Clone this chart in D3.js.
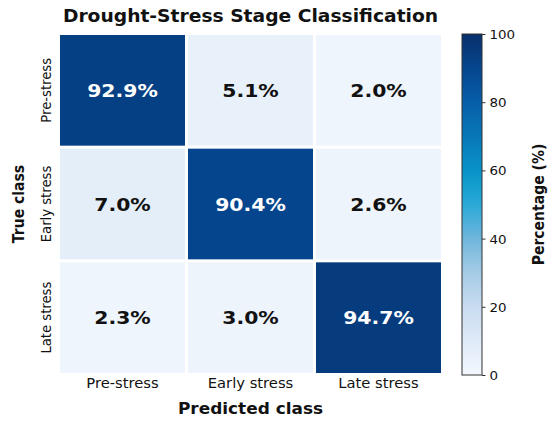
<!DOCTYPE html>
<html>
<head>
<meta charset="utf-8">
<style>
	html, body { margin: 0; padding: 0; background: white; }
	svg { display: block; font-family: "DejaVu Sans", sans-serif; }
</style>
</head>
<body>
<svg class="chart" width="550" height="423"></svg>

<script src="https://cdn.jsdelivr.net/npm/d3@7"></script>
<script>

// chart data
var classes = ['Pre-stress', 'Early stress', 'Late stress']
var rowPre = [92.9, 5.1, 2.0]
var rowEarly = [7.0, 90.4, 2.6]
var rowLate = [2.3, 3.0, 94.7]
var barTicks = [0, 20, 40, 60, 80, 100]

var rows = [rowPre, rowEarly, rowLate]

// layout + style
var cfg = {
	left: 58.5, right: 442.5, top: 33.5, bottom: 374.5,
	gap: 1.5,
	barX: 462, barW: 20, barTop: 34, barBottom: 375,
	stretch: 1.1, // the original text looks a bit wide
}

// Blues-like ramp, a bit more cyan in the middle like the reference
var ramp = d3.scaleLinear()
	.domain([0, 10, 20, 30, 40, 52, 60, 70, 80, 90, 100])
	.range(['#f3f8fd', '#deeaf7', '#c9dcf0', '#a5cbe5', '#6fb6dc', '#1ea6d6',
		'#0992c7', '#0877b8', '#075ea8', '#05468e', '#08306b'])

var svg = d3.select('.chart')

function wide(x, y, extra) {
	return 'translate(' + x + ',' + y + ') scale(' + cfg.stretch + ',1)' + (extra || '')
}

// scales
var x = d3.scaleBand().domain(classes).range([cfg.left, cfg.right])
var y = d3.scaleBand().domain(classes).range([cfg.top, cfg.bottom])

// cells
var cells = []
rows.forEach(function(r, i) {
	r.forEach(function(v, j) {
		cells.push({ t: classes[i], p: classes[j], v: v })
	})
})

var cell = svg.append('g').selectAll('g')
	.data(cells)
	.enter().append('g')

cell.append('rect')
	.attr('x', function(d) { return x(d.p) + cfg.gap })
	.attr('y', function(d) { return y(d.t) + cfg.gap })
	.attr('width', x.bandwidth() - 2 * cfg.gap)
	.attr('height', y.bandwidth() - 2 * cfg.gap)
	.attr('fill', function(d) { return ramp(d.v) })

cell.append('text')
	.attr('transform', function(d) {
		return wide(x(d.p) + x.bandwidth() / 2, y(d.t) + y.bandwidth() / 2 + 6.6)
	})
	.attr('text-anchor', 'middle')
	.attr('font-size', 18.5)
	.attr('font-weight', 'bold')
	.attr('fill', function(d) { return d.v > 50 ? 'white' : '#111' })
	.text(function(d) { return d.v.toFixed(1) + '%' })

// x axis labels
var xAxis = svg.append('g')
	.attr('transform', 'translate(0,' + cfg.bottom + ')')
	.call(d3.axisBottom(x).tickSize(0))
xAxis.select('.domain').remove()
xAxis.selectAll('text')
	.attr('y', 0).attr('dy', 0)
	.attr('transform', wide(0, 13.8))
	.attr('font-size', 13.4)
	.attr('font-family', 'DejaVu Sans')
	.attr('fill', '#111')

// y axis labels, rotated
var yAxis = svg.append('g')
	.attr('transform', 'translate(' + cfg.left + ',0)')
	.call(d3.axisLeft(y).tickSize(0))
yAxis.select('.domain').remove()
yAxis.selectAll('text')
	.attr('x', 0).attr('dy', 0)
	.attr('text-anchor', 'middle')
	.attr('transform', wide(-8, 0, ' rotate(-90)'))
	.attr('font-size', 13.2)
	.attr('font-family', 'DejaVu Sans')
	.attr('fill', '#111')

// titles
svg.append('text')
	.attr('transform', wide(250.5, 22))
	.attr('text-anchor', 'middle')
	.attr('font-size', 17)
	.attr('font-weight', 'bold')
	.attr('fill', '#111')
	.text('Drought-Stress Stage Classification')

svg.append('text')
	.attr('transform', wide(250.5, 413.5))
	.attr('text-anchor', 'middle')
	.attr('font-size', 15.4)
	.attr('font-weight', 'bold')
	.attr('fill', '#111')
	.text('Predicted class')

svg.append('text')
	.attr('transform', wide(24, 204, ' rotate(-90)'))
	.attr('text-anchor', 'middle')
	.attr('font-size', 14)
	.attr('font-weight', 'bold')
	.attr('fill', '#111')
	.text('True class')

// colour bar
var grad = svg.append('defs').append('linearGradient')
	.attr('id', 'bar').attr('x1', 0).attr('y1', 1).attr('x2', 0).attr('y2', 0)
d3.range(0, 101, 5).forEach(function(v) {
	grad.append('stop').attr('offset', v + '%').attr('stop-color', ramp(v))
})

svg.append('rect')
	.attr('x', cfg.barX).attr('y', cfg.barTop)
	.attr('width', cfg.barW).attr('height', cfg.barBottom - cfg.barTop)
	.attr('fill', 'url(#bar)')
	.attr('stroke', '#333').attr('stroke-width', 1)

var barScale = d3.scaleLinear().domain([0, 100]).range([cfg.barBottom, cfg.barTop])
var barAxis = svg.append('g')
	.attr('transform', 'translate(' + (cfg.barX + cfg.barW) + ',0)')
	.call(d3.axisRight(barScale).tickValues(barTicks).tickSize(3.5).tickPadding(4))
barAxis.select('.domain').remove()
barAxis.selectAll('line').attr('stroke', '#333')
barAxis.selectAll('text')
	.attr('x', 0).attr('dy', 0)
	.attr('transform', wide(7.5, 4.4))
	.attr('font-size', 12.2)
	.attr('font-family', 'DejaVu Sans')
	.attr('fill', '#111')

svg.append('text')
	.attr('transform', wide(544, 204.5, ' rotate(-90)'))
	.attr('text-anchor', 'middle')
	.attr('font-size', 14)
	.attr('font-weight', 'bold')
	.attr('fill', '#111')
	.text('Percentage (%)')

</script>
</body>
</html>
